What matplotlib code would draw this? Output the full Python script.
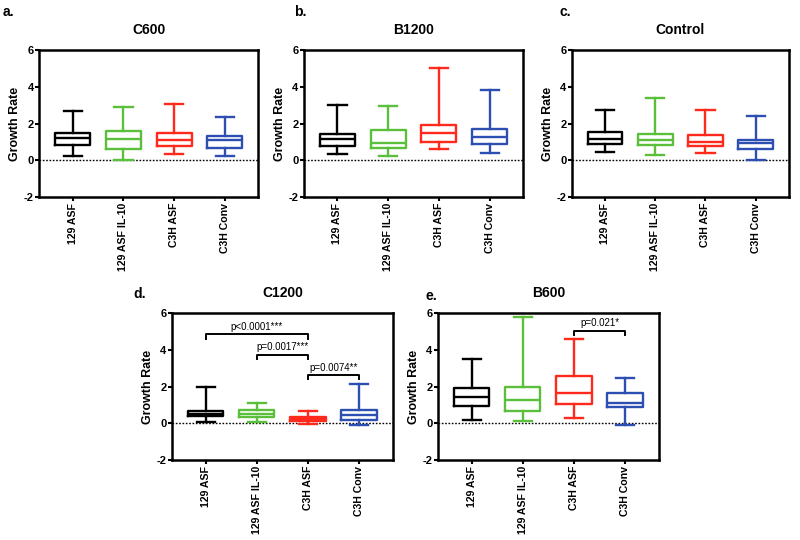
import matplotlib
matplotlib.use("Agg")
import matplotlib.pyplot as plt

plt.rcParams['font.family'] = ['Liberation Sans', 'DejaVu Sans']
plt.rcParams['axes.unicode_minus'] = False

groups = ['129 ASF', '129 ASF IL-10', 'C3H ASF', 'C3H Conv']
colors = ['#000000', '#5cbf3c', '#ff2a1c', '#2d4fb2']

# whisker low, Q1, median, Q3, whisker high for each group
c600 = [[0.22, 0.82, 1.24, 1.49, 2.67],
        [0.04, 0.64, 1.18, 1.60, 2.91],
        [0.33, 0.76, 1.13, 1.49, 3.09],
        [0.22, 0.69, 1.09, 1.33, 2.36]]
b1200 = [[0.36, 0.76, 1.15, 1.45, 3.04],
         [0.22, 0.69, 0.95, 1.64, 2.96],
         [0.64, 1.00, 1.49, 1.95, 5.04],
         [0.40, 0.91, 1.27, 1.71, 3.85]]
control = [[0.45, 0.91, 1.15, 1.55, 2.76],
           [0.31, 0.82, 1.09, 1.45, 3.40],
           [0.40, 0.76, 1.00, 1.40, 2.73],
           [0.04, 0.60, 0.95, 1.13, 2.42]]
c1200 = [[0.05, 0.38, 0.51, 0.69, 2.00],
         [0.09, 0.33, 0.51, 0.75, 1.11],
         [-0.04, 0.11, 0.24, 0.36, 0.69],
         [-0.07, 0.20, 0.47, 0.75, 2.15]]
b600 = [[0.18, 0.95, 1.42, 1.91, 3.51],
        [0.15, 0.69, 1.29, 1.96, 5.82],
        [0.29, 1.05, 1.64, 2.56, 4.60],
        [-0.09, 0.87, 1.11, 1.65, 2.47]]

# significance brackets: (group a, group b, height, label)
c1200_sig = [(1, 3, 4.84, 'p<0.0001***'),
             (2, 3, 3.75, 'p=0.0017***'),
             (3, 4, 2.64, 'p=0.0074**')]
b600_sig = [(3, 4, 5.05, 'p=0.021*')]

# letter, title, data, brackets, axes rect, letter position (px from top-left)
panels = [
    ('a.', 'C600', c600, [], [0.049, 0.635, 0.274, 0.272], (3, 12)),
    ('b.', 'B1200', b1200, [], [0.380, 0.635, 0.274, 0.272], (294, 12)),
    ('c.', 'Control', control, [], [0.715, 0.635, 0.271, 0.272], (560, 12)),
    ('d.', 'C1200', c1200, c1200_sig, [0.215, 0.148, 0.276, 0.272], (133, 294)),
    ('e.', 'B600', b600, b600_sig, [0.5475, 0.148, 0.276, 0.272], (426, 296)),
]

fig = plt.figure(figsize=(8, 5.4), dpi=100)

for letter, title, stats, sigs, pos, lpos in panels:
    ax = fig.add_axes(pos)
    for i, s in enumerate(stats):
        st = [dict(whislo=s[0], q1=s[1], med=s[2], q3=s[3], whishi=s[4], fliers=[])]
        c = colors[i]
        ax.bxp(st, positions=[i + 1], widths=0.69, capwidths=0.36, showfliers=False,
               boxprops=dict(color=c, linewidth=1.7),
               whiskerprops=dict(color=c, linewidth=1.7),
               capprops=dict(color=c, linewidth=1.7),
               medianprops=dict(color=c, linewidth=1.7))
    ax.axhline(0, color='black', linestyle=(0, (1.2, 1.2)), linewidth=1.0, zorder=0)
    for a, b, h, lab in sigs:
        ax.plot([a, a, b, b], [h - 0.25, h, h, h - 0.25], color='black', linewidth=1.4)
        ax.text((a + b) / 2, h + 0.12, lab, ha='center', va='bottom', fontsize=7)
    ax.set_xlim(0.34, 4.66)
    ax.set_ylim(-2, 6)
    ax.set_yticks([-2, 0, 2, 4, 6])
    ax.set_xticks([1, 2, 3, 4])
    ax.set_xticklabels(groups, rotation=90, fontsize=7.6, fontweight='bold')
    for t in ax.get_yticklabels():
        t.set_fontweight('bold')
        t.set_fontsize(8)
    ax.tick_params(direction='out', width=1.5, length=3, pad=1)
    for sp in ax.spines.values():
        sp.set_linewidth(1.8)
    ax.set_ylabel('Growth Rate', fontsize=9, fontweight='bold', labelpad=2)
    ax.set_title(title, fontsize=10, fontweight='bold', pad=12)
    fig.text(lpos[0] / 800, 1 - lpos[1] / 540, letter, fontsize=10,
             fontweight='bold', ha='left', va='center')

fig.savefig('out.png', dpi=100)
